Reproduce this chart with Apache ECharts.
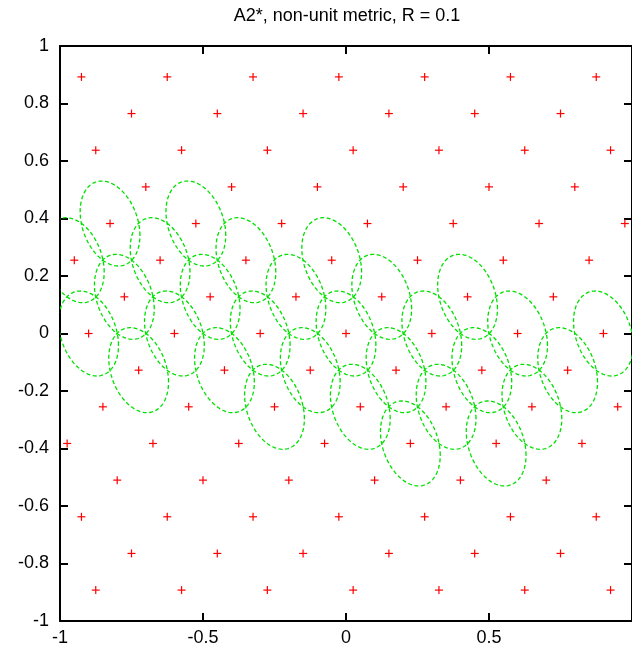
<!DOCTYPE html>
<html lang="en">
<head>
    <meta charset="UTF-8">
    <script type="text/javascript" src="https://cdn.jsdelivr.net/npm/echarts@6.0.0/dist/echarts.min.js"></script>
    <title>A2* lattice</title>
    <style>
        html, body { margin: 0; padding: 0; background: #fff; }
        #latticeChart { width: 632px; height: 648px; }
    </style>
</head>
<body>

<div id="latticeChart"></div>

<script>
    // lattice rows (top to bottom), y of each row and x of its points
    var latticeRowY = [0.8925, 0.765, 0.6375, 0.51, 0.3825, 0.255, 0.1275, 0,
        -0.1275, -0.255, -0.3825, -0.51, -0.6375, -0.765, -0.8925];
    var latticeRowX = [
        [-0.925, -0.625, -0.325, -0.025, 0.275, 0.575, 0.875],
        [-0.75, -0.45, -0.15, 0.15, 0.45, 0.75],
        [-0.875, -0.575, -0.275, 0.025, 0.325, 0.625, 0.925],
        [-0.7, -0.4, -0.1, 0.2, 0.5, 0.8],
        [-0.825, -0.525, -0.225, 0.075, 0.375, 0.675, 0.975],
        [-0.95, -0.65, -0.35, -0.05, 0.25, 0.55, 0.85],
        [-0.775, -0.475, -0.175, 0.125, 0.425, 0.725],
        [-0.9, -0.6, -0.3, 0, 0.3, 0.6, 0.9],
        [-0.725, -0.425, -0.125, 0.175, 0.475, 0.775],
        [-0.85, -0.55, -0.25, 0.05, 0.35, 0.65, 0.95],
        [-0.975, -0.675, -0.375, -0.075, 0.225, 0.525, 0.825],
        [-0.8, -0.5, -0.2, 0.1, 0.4, 0.7],
        [-0.925, -0.625, -0.325, -0.025, 0.275, 0.575, 0.875],
        [-0.75, -0.45, -0.15, 0.15, 0.45, 0.75],
        [-0.875, -0.575, -0.275, 0.025, 0.325, 0.625, 0.925]
    ];

    // lattice points that carry an R-ball (ellipse) in the metric
    var ballRowY = [0.3825, 0.255, 0.1275, 0, -0.1275, -0.255, -0.3825];
    var ballRowX = [
        [-0.825, -0.525],
        [-0.95, -0.65, -0.35, -0.05],
        [-0.775, -0.475, -0.175, 0.125, 0.425],
        [-0.9, -0.6, -0.3, 0, 0.3, 0.6, 0.9],
        [-0.725, -0.425, -0.125, 0.175, 0.475, 0.775],
        [-0.25, 0.05, 0.35, 0.65],
        [0.225, 0.525]
    ];

    // ellipse shape of the metric ball
    var ballHalfWidth = 0.1045;
    var ballHalfHeight = 0.1478;
    var ballTilt = -0.28;

    var font = '"Liberation Sans", Arial, sans-serif';

    function toPairs(rowsY, rowsX) {
        var out = [];
        for (var i = 0; i < rowsY.length; i++) {
            for (var j = 0; j < rowsX[i].length; j++) {
                out.push([rowsX[i][j], rowsY[i]]);
            }
        }
        return out;
    }

    var latticePoints = toPairs(latticeRowY, latticeRowX);
    var ballCenters = toPairs(ballRowY, ballRowX);

    var renderPlus = function (params, api) {
        var p = api.coord([api.value(0), api.value(1)]);
        var x = p[0], y = p[1];
        var s = 4;
        return {
            type: 'group',
            children: [
                {type: 'line', shape: {x1: x - s, y1: y, x2: x + s, y2: y},
                    style: {stroke: '#ff0000', lineWidth: 1.2}},
                {type: 'line', shape: {x1: x, y1: y - s, x2: x, y2: y + s},
                    style: {stroke: '#ff0000', lineWidth: 1.2}}
            ]
        };
    };

    var renderBall = function (params, api) {
        var cx = api.value(0), cy = api.value(1);
        var pts = [];
        var n = 120;
        var k = Math.sqrt(1 - ballTilt * ballTilt);
        for (var i = 0; i < n; i++) {
            var t = 2 * Math.PI * i / n;
            pts.push(api.coord([
                cx + ballHalfWidth * Math.cos(t),
                cy + ballHalfHeight * (ballTilt * Math.cos(t) + k * Math.sin(t))
            ]));
        }
        return {
            type: 'polygon',
            shape: {points: pts},
            style: {fill: null, stroke: '#00e000', lineWidth: 1.3, lineDash: [4, 2.5]}
        };
    };

    function makeAxis(position, interval, label) {
        return {
            type: 'value', min: -1, max: 1, position: position, interval: interval,
            axisLine: {show: true, onZero: false, lineStyle: {color: '#000', width: 2}},
            axisTick: {show: true, inside: true, length: 8, lineStyle: {color: '#000', width: 2}},
            splitLine: {show: false},
            axisLabel: label
        };
    }

    var mChart = echarts.init(document.getElementById('latticeChart'), null, {renderer: 'canvas'});

    var option = {
        animation: false,
        backgroundColor: '#fff',
        graphic: [{
            type: 'text', x: 347, y: 16,
            style: {
                text: 'A2*, non-unit metric, R = 0.1',
                font: '18px ' + font, fill: '#000',
                align: 'center', verticalAlign: 'middle',
                textAlign: 'center', textVerticalAlign: 'middle'
            }
        }],
        grid: {left: 60, top: 46, width: 573, height: 575},
        xAxis: [
            makeAxis('bottom', 0.5, {color: '#000', fontSize: 18, fontFamily: font, margin: 8, showMaxLabel: false}),
            makeAxis('top', 0.5, {show: false})
        ],
        yAxis: [
            makeAxis('left', 0.2, {color: '#000', fontSize: 18, fontFamily: font, margin: 11}),
            makeAxis('right', 0.2, {show: false})
        ],
        series: [
            {
                type: 'custom', name: 'lattice',
                xAxisIndex: 0, yAxisIndex: 0,
                renderItem: renderPlus, clip: true,
                data: latticePoints
            },
            {
                type: 'custom', name: 'balls',
                xAxisIndex: 0, yAxisIndex: 0,
                renderItem: renderBall, clip: true,
                data: ballCenters
            }
        ]
    };
    mChart.setOption(option);
</script>

</body>
</html>
